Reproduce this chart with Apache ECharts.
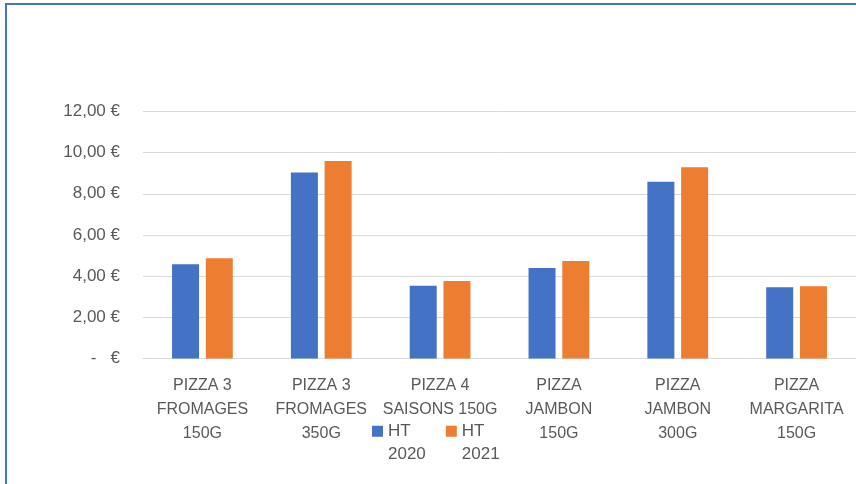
<!DOCTYPE html>
<html>
<head>
<meta charset="utf-8">
<script src="https://cdn.jsdelivr.net/npm/echarts@6/dist/echarts.min.js"></script>
<style>
  html, body { margin: 0; padding: 0; background: #ffffff; }
  #chart { position: absolute; left: 0; top: 0; width: 856px; height: 484px; }
  #frame { position: absolute; left: 5px; top: 3px; width: 860px; height: 490px;
           border-left: 2px solid #4472C4; border-top: 2px solid #4472C4; pointer-events: none; }
</style>
</head>
<body>
<div id="chart"></div>
<div id="frame"></div>
<script>
const categories = [
  'PIZZA 3\nFROMAGES\n150G',
  'PIZZA 3\nFROMAGES\n350G',
  'PIZZA 4\nSAISONS 150G',
  'PIZZA\nJAMBON\n150G',
  'PIZZA\nJAMBON\n300G',
  'PIZZA\nMARGARITA\n150G'
];
const seriesNames = ['HT 2020', 'HT 2021'];
const ht2020 = [4.58, 9.04, 3.54, 4.40, 8.59, 3.46];
const ht2021 = [4.87, 9.59, 3.77, 4.74, 9.29, 3.51];
const yTicks = { min: 0, max: 12, interval: 2 };

const FONT = 'Liberation Sans, Arial, sans-serif';
const TEXT = '#595959';

const chart = echarts.init(document.getElementById('chart'), null, { renderer: 'canvas' });
chart.setOption({
  animation: false,
  backgroundColor: '#ffffff',
  grid: { left: 143, right: -4, top: 111.4, bottom: 125.4, containLabel: false },
  legend: {
    data: seriesNames,
    left: 372,
    top: 396,
    padding: 0,
    itemWidth: 11,
    itemHeight: 11,
    itemGap: 20,
    icon: 'rect',
    formatter: function (n) { return '\n' + n.replace(' ', '\n'); },
    textStyle: { color: TEXT, fontFamily: FONT, fontSize: 17, lineHeight: 23.5 }
  },
  xAxis: {
    type: 'category',
    data: categories,
    axisLine: { show: true, lineStyle: { color: '#D9D9D9', width: 1 } },
    axisTick: { show: false },
    axisLabel: { interval: 0, margin: 15, color: TEXT, fontFamily: FONT, fontSize: 16, lineHeight: 24, align: 'center' }
  },
  yAxis: {
    type: 'value',
    min: yTicks.min,
    max: yTicks.max,
    interval: yTicks.interval,
    axisLine: { show: false },
    axisTick: { show: false },
    splitLine: { show: true, lineStyle: { color: '#D9D9D9', width: 1 } },
    axisLabel: {
      margin: 23, color: TEXT, fontFamily: FONT, fontSize: 17,
      formatter: function (v) { return v === 0 ? '-   €' : v.toFixed(2).replace('.', ',') + ' €'; }
    }
  },
  series: [
    { name: seriesNames[0], type: 'bar', data: ht2020, barWidth: 27, barGap: '25%', itemStyle: { color: '#4472C4' } },
    { name: seriesNames[1], type: 'bar', data: ht2021, barWidth: 27, barGap: '25%', itemStyle: { color: '#ED7D31' } }
  ]
});
</script>
</body>
</html>
